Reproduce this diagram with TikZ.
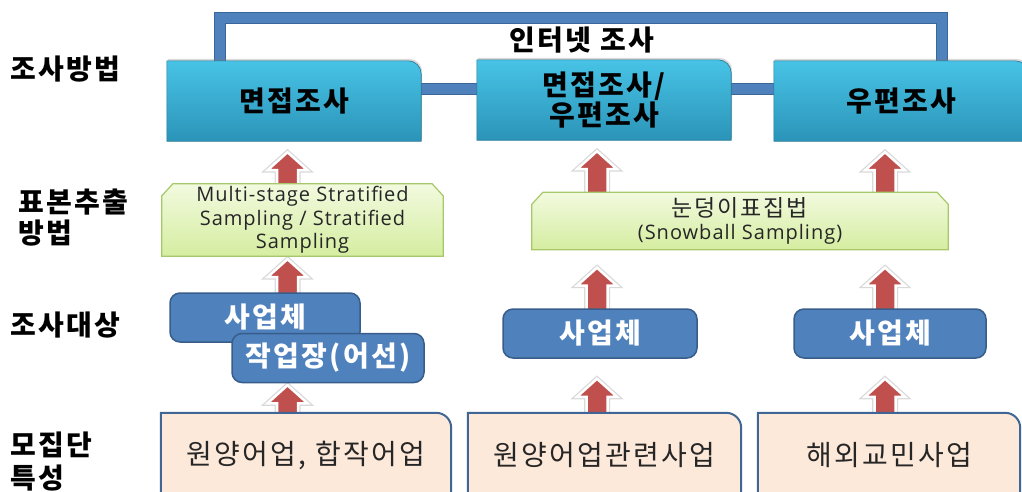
\documentclass[tikz,border=0pt]{standalone}
\usepackage{fontspec}
\setmainfont{Noto Sans CJK KR}[LetterSpace=8]
\newfontfamily\latinfont[LetterSpace=5]{Open Sans}
\usetikzlibrary{calc,backgrounds,shadows}
\definecolor{pipeblue}{HTML}{4F81BD}
\definecolor{pipedark}{HTML}{3A6699}
\definecolor{tealtop}{HTML}{47C3E6}
\definecolor{tealbot}{HTML}{2B94B8}
\definecolor{greentop}{HTML}{F2FADF}
\definecolor{greenbot}{HTML}{D5EDA0}
\definecolor{greenline}{HTML}{A6C86A}
\definecolor{unitblue}{HTML}{4F81BD}
\definecolor{unitline}{HTML}{385D8A}
\definecolor{peach}{HTML}{FDE9DA}
\definecolor{peachline}{HTML}{3F6694}
\definecolor{arrowred}{HTML}{C0504D}
\tikzset{
  rowlabel/.style={anchor=west, align=left, inner sep=0, font=\fontsize{28}{31}\selectfont\bfseries},
  method/.style={minimum width=254, minimum height=80, inner sep=0, align=center, font=\fontsize{28}{30}\selectfont\bfseries},
  weblabel/.style={inner sep=0, font=\fontsize{28}{30}\selectfont\bfseries},
  sampling/.style={inner sep=0, align=center, text=black!85, font=\latinfont\fontsize{20}{23.5}\selectfont},
  unit/.style={draw=unitline, line width=1.5, fill=unitblue, rounded corners=10, minimum height=49, inner sep=0, text=white, font=\fontsize{28}{30}\selectfont\bfseries},
  population/.style={minimum height=85, inner sep=0, text=black!85, font=\fontsize{28}{30}\selectfont},
  pipe/.style={draw=pipedark, line width=1, double=pipeblue, double distance=10, line join=miter},
  methodbox/.style={draw=tealbot!80!black, line width=0.6, top color=tealtop, bottom color=tealbot, drop shadow={opacity=0.3, shadow xshift=1, shadow yshift=-2}},
  samplingbox/.style={draw=greenline, line width=1.2, top color=greentop, bottom color=greenbot},
  populationbox/.style={draw=peachline, line width=2, fill=peach},
  liftarr/.style={fill=arrowred, draw=white, line width=2.5, line join=miter, preaction={draw=black!15, line width=5}}
}
\newcommand\liftarrow[4]{%
  \path[liftarr] let \p1=(#1.north -| #3), \p2=(#2.south -| #3) in
    (\x1-10.5pt,\y1-2pt) -- (\x1-10.5pt,\y2-#4pt-18pt) -- (\x1-20pt,\y2-#4pt-18pt)
    -- (\x1,\y2-#4pt) -- (\x1+20pt,\y2-#4pt-18pt) -- (\x1+10.5pt,\y2-#4pt-18pt)
    -- (\x1+10.5pt,\y1-2pt) -- cycle;}
\begin{document}
\begin{tikzpicture}[x=1pt,y=-1pt]
  \useasboundingbox (0,0) rectangle (1022,491);
  \clip (0,0) rectangle (1022,491);
  \node[rowlabel] (l1) at (10,69) {조사방법};
  \node[rowlabel] (l2) at (18,218) {표본추출\\방법};
  \node[rowlabel] (l3) at (10,325) {조사대상};
  \node[rowlabel, font=\fontsize{28}{33}\selectfont\bfseries] (l4) at (10,462) {모집단\\특성};

  \node[method] (m1) at (294,101) {면접조사};
  \node[method] (m2) at (604,100) {면접조사/\\우편조사};
  \node[method] (m3) at (901,101) {우편조사};
  \node[weblabel] (web) at (582,40) {인터넷 조사};

  \node[sampling, minimum width=281, minimum height=72] (g1) at (302.5,220) {Multi-stage Stratified\\Sampling / Stratified\\Sampling};
  \node[sampling, minimum width=416, minimum height=57] (g2) at (740,221) {{\rmfamily\fontsize{23}{23.5}\selectfont 눈덩이표집법}\\(Snowball Sampling)};

  \node[unit, minimum width=190] (s1) at (265,317.5) {사업체};
  \node[unit, minimum width=192] (w1) at (328,358) {작업장(어선)};
  \node[unit, minimum width=194] (s2) at (600,333.5) {사업체};
  \node[unit, minimum width=192] (s3) at (890,333.5) {사업체};

  \node[population, minimum width=290] (p1) at (306,455.5) {원양어업, 합작어업};
  \node[population, minimum width=273] (p2) at (604.5,455.5) {원양어업관련사업};
  \node[population, minimum width=262] (p3) at (889,455.5) {해외교민사업};

  \coordinate (c1) at (287.5,0);
  \coordinate (c2) at (597,0);
  \coordinate (c3) at (885,0);
  \coordinate (fl) at (219.5,18);
  \coordinate (fr) at (942,18);
  \coordinate (hy) at (0,88.5);

  \begin{scope}[on background layer]
    \draw[pipe] (m1.north -| fl) -- (fl) -- (fr) -- (m3.north -| fr);
    \draw[pipe] (m1.east |- hy) -- (m2.west |- hy);
    \draw[pipe] (m2.east |- hy) -- (m3.west |- hy);

    \liftarrow{g1}{m1}{c1}{11}
    \liftarrow{s1}{g1}{c1}{3}
    \liftarrow{p1}{w1}{c1}{2}
    \liftarrow{g2}{m2}{c2}{11}
    \liftarrow{s2}{g2}{c2}{18}
    \liftarrow{p2}{s2}{c2}{20}
    \liftarrow{g2}{m3}{c3}{11}
    \liftarrow{s3}{g2}{c3}{18}
    \liftarrow{p3}{s3}{c3}{20}

    \foreach \n in {m1,m2,m3}
      \path[methodbox] (\n.south west) -- (\n.north west) [rounded corners=13]
        -- (\n.north east) [sharp corners] -- (\n.south east) -- cycle;
    \foreach \n in {g1,g2}
      \path[samplingbox] (\n.south west) -- ([yshift=-12]\n.north west)
        -- ([xshift=11]\n.north west) -- ([xshift=-11]\n.north east)
        -- ([yshift=-12]\n.north east) -- (\n.south east) -- cycle;
    \foreach \n in {p1,p2,p3}
      \path[populationbox] (\n.south west) -- (\n.north west) [rounded corners=15]
        -- (\n.north east) [sharp corners] -- (\n.south east) -- cycle;
  \end{scope}
\end{tikzpicture}
\end{document}
